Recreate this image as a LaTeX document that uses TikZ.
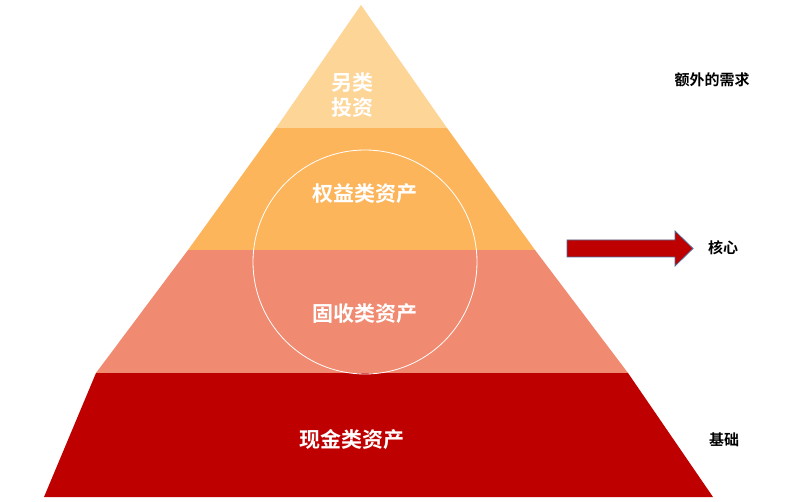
\documentclass[tikz,border=0pt]{standalone}
\usepackage{fontspec}
\newfontfamily\cjk{Noto Sans CJK SC}[BoldFont={* Bold}]
\definecolor{l1}{HTML}{FDD597}
\definecolor{l2}{HTML}{FDB55C}
\definecolor{l3}{HTML}{F08A70}
\definecolor{l4}{HTML}{BF0000}
\definecolor{ol}{HTML}{4F6D9A}
\begin{document}
\begin{tikzpicture}[x=1pt,y=-1pt,
  lay/.style={draw=none},
  lab/.style={text=white,font=\cjk\bfseries\fontsize{21}{25}\selectfont,align=center},
  side/.style={text=black,font=\cjk\bfseries\fontsize{15}{18}\selectfont}]
\useasboundingbox (0,0) rectangle (787,502);
\fill[l4] (96,373) -- (628,373) -- (713,497) -- (44,497) -- cycle;
\fill[l3] (188,250) -- (535,250) -- (628,373) -- (96,373) -- cycle;
\fill[l2] (276,128) -- (447,128) -- (535,250) -- (188,250) -- cycle;
\fill[l1] (361,5) -- (447,128) -- (276,128) -- cycle;
\draw[white,line width=0.8pt] (365,262) circle (112);
\node[lab] (a) at (352,95) {另类\\投资};
\node[lab] (b) at (365,194) {权益类资产};
\node[lab] (c) at (365,314) {固收类资产};
\node[lab] (d) at (352,440) {现金类资产};
\node[side] (e) at (712,80) {额外的需求};
\node[side] (f) at (723,248) {核心};
\node[side] (g) at (724,440) {基础};
\coordinate (s) at (567,248.5);
\draw[ol,fill=l4,line width=0.8pt] (567,240) -- (675,240) -- (675,231) -- (693,248.5) -- (675,266) -- (675,257) -- (567,257) -- cycle;
\end{tikzpicture}
\end{document}
